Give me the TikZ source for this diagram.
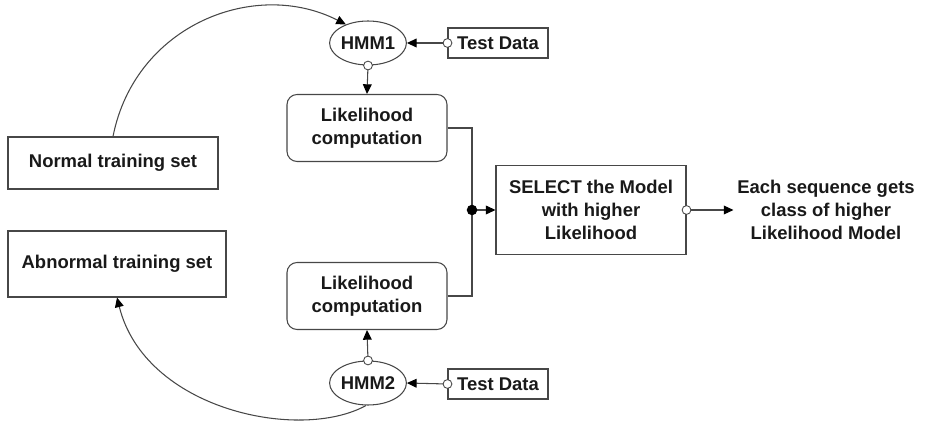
\documentclass[tikz,border=0pt]{standalone}
\usepackage{fontspec}
\setmainfont{Liberation Sans}
\usetikzlibrary{arrows.meta,shapes.geometric}
\begin{document}
\begin{tikzpicture}[x=0.02cm,y=-0.02cm,
  txt/.style={font=\fontsize{10.5}{13}\selectfont\bfseries, text=black!90},
  line/.style={draw=black!72, line width=0.6pt},
  box/.style={line, txt, rectangle, align=center, inner sep=0pt},
  rbox/.style={box, rounded corners=0.2cm},
  hmm/.style={line, txt, ellipse, minimum width=1.5cm, minimum height=0.88cm, inner sep=0pt},
  arr/.style={line, -{Triangle[length=5.5pt,width=5pt,color=black,fill=black]}},
  port/.style={circle, draw=black!72, fill=white, line width=0.5pt, inner sep=0pt, minimum size=5pt},
  dot/.style={circle, fill=black, inner sep=0pt, minimum size=6pt}]
\useasboundingbox (0,0) rectangle (926,425);

\node[hmm] (hmm1) at (368,43) {HMM1};
\node[box, minimum width=2cm, minimum height=0.6cm] (td1) at (498,43) {Test Data};
\node[rbox, minimum width=3.2cm, minimum height=1.34cm] (lk1) at (367,128) {Likelihood\\computation};
\node[box, minimum width=4.2cm, minimum height=1.04cm] (normal) at (113,163) {Normal training set};
\node[box, minimum width=4.36cm, minimum height=1.32cm] (abnormal) at (117,264) {Abnormal training set};
\node[rbox, minimum width=3.2cm, minimum height=1.34cm] (lk2) at (367,296) {Likelihood\\computation};
\node[hmm] (hmm2) at (368,383) {HMM2};
\node[box, minimum width=2cm, minimum height=0.6cm] (td2) at (498,384) {Test Data};
\node[box, minimum width=3.8cm, minimum height=1.78cm] (sel) at (591,210) {SELECT the Model\\with higher\\Likelihood};
\node[txt, align=center, inner sep=2pt] (out) at (826,210) {Each sequence gets\\class of higher\\Likelihood Model};
\coordinate (jn) at (472,210);

% curves
\draw[arr] (normal.north) .. controls (135,25) and (255,-22) .. (hmm1.140);
\draw[arr] (hmm2.265) .. controls (300,442) and (145,410) .. (abnormal.south);

% straight connectors
\draw[arr] (td1.west) -- (hmm1.east);
\draw[arr] (td2.west) -- (hmm2.east);
\draw[arr] (hmm1.south) -- (lk1.north);
\draw[arr] (hmm2.north) -- (lk2.south);
\draw[line] (lk1.east) -| (jn);
\draw[line] (lk2.east) -| (jn);
\draw[arr] (jn) -- (sel.west);
\draw[arr] (sel.east) -- (out.west);

% ports and junction
\node[dot] (jd) at (jn) {};
\node[port] (p1) at (hmm1.south) {};
\node[port] (p2) at (hmm2.north) {};
\node[port] (p3) at (td1.west) {};
\node[port] (p4) at (td2.west) {};
\node[port] (p5) at (sel.east) {};
\end{tikzpicture}
\end{document}
